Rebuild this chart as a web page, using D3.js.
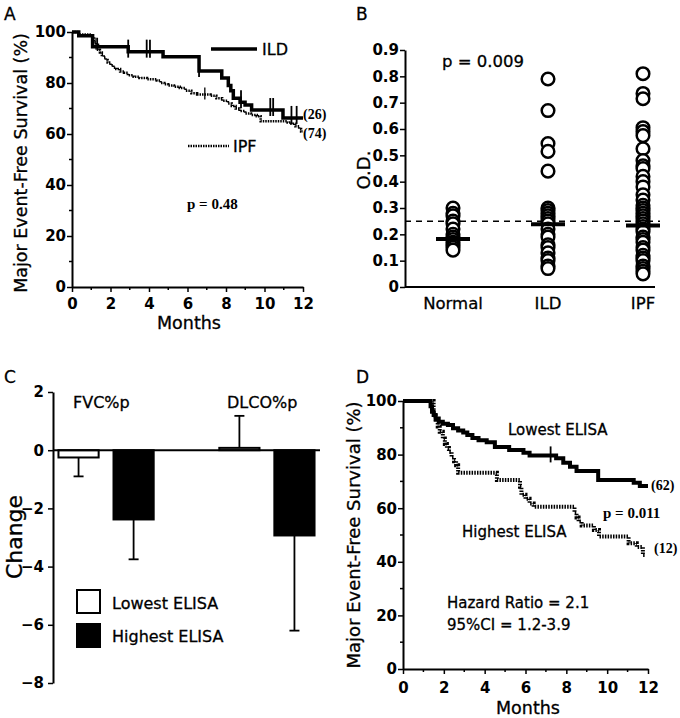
<!DOCTYPE html>
<html>
<head>
<meta charset="utf-8">
<script src="https://d3js.org/d3.v7.min.js"></script>
<style>
  body { margin: 0; background: #fff; }
  svg text { font-family: "DejaVu Sans", Verdana, sans-serif; fill: #000; stroke: #000; stroke-width: 0.3px; }
  .tick text { font-weight: bold; font-size: 15px; stroke-width: 0; }
  .serif { font-family: "Liberation Serif", "Times New Roman", serif !important; font-weight: bold; font-size: 15px; stroke-width: 0 !important; }
</style>
</head>
<body>
<svg id="fig" width="680" height="718"></svg>
<script>
// ---- panel A : KM, ILD vs IPF ----
var ildTimes = [0, 0.35, 1.07, 2.92, 4.73, 6.6, 7.78, 8.12, 8.25, 8.38, 8.73, 8.99, 9.33, 10.96, 12];
var ildSurv  = [100, 98.5, 94.2, 92.3, 90.3, 84.7, 82, 79, 77, 74, 72.5, 71.4, 69.4, 66.3, 66.3];
var ildCensor = [2.92, 3.88, 4.05, 6.6, 8.78, 10.3, 10.45, 11.4, 11.67];

var ipfTimes = [0, 0.35, 1.0, 1.15, 1.25, 1.35, 1.45, 1.55, 1.65, 1.75, 1.85, 2.0, 2.15, 2.3, 2.5, 2.7, 2.9, 3.2, 3.5, 3.9, 4.4, 4.6, 4.8, 5.0, 5.3, 5.6, 5.9, 6.2, 6.5, 7.2, 7.5, 7.8, 8.1, 8.3, 8.5, 8.7, 9.0, 9.3, 9.6, 9.8, 11.2, 11.4, 11.6, 11.8, 11.9, 12];
var ipfSurv  = [100, 99, 98, 96, 95, 93, 92, 91, 90, 89, 88, 87, 86, 85.5, 84.5, 84, 83, 82.5, 82, 81.5, 81, 80, 79.5, 79, 78.5, 78, 77, 76, 75.5, 75, 74, 73, 72, 71, 70, 69, 68, 67.5, 67, 65, 64.5, 64, 63, 62, 61, 61];
var ipfCensor = [1.25, 1.32, 6.9];

// ---- panel B : O.D. scatter ----
var bGroups = ["Normal", "ILD", "IPF"];
var normalOD = [0.30, 0.28, 0.27, 0.25, 0.24, 0.22, 0.20, 0.19, 0.18, 0.17, 0.16, 0.15, 0.14];
var ildOD = [0.79, 0.67, 0.545, 0.515, 0.44, 0.30, 0.29, 0.28, 0.27, 0.26, 0.25, 0.24, 0.22, 0.20, 0.19, 0.16, 0.15, 0.13, 0.11, 0.10, 0.08, 0.07];
var ipfOD = [0.81, 0.735, 0.715, 0.605, 0.59, 0.575, 0.525, 0.48, 0.46, 0.45, 0.42, 0.40, 0.38, 0.35, 0.33, 0.31, 0.30, 0.29, 0.28, 0.27, 0.26, 0.25, 0.24, 0.23, 0.22, 0.21, 0.19, 0.18, 0.17, 0.15, 0.14, 0.12, 0.11, 0.10, 0.08, 0.07, 0.06, 0.05];
var bMedians = [0.182, 0.238, 0.234];
var bCutoff = 0.25;
var bTicks = [0, 0.1, 0.2, 0.3, 0.4, 0.5, 0.6, 0.7, 0.8, 0.9];

// ---- panel C : change bars ----
var cGroups = ["FVC%p", "DLCO%p"];
var cSeries = ["Lowest ELISA", "Highest ELISA"];
var lowestMean = [-0.25, 0.08];
var lowestErr  = [0.65, 1.1];
var highestMean = [-2.38, -2.93];
var highestErr  = [1.37, 3.27];
var cTicks = [2, 0, -2, -4, -6, -8];

// ---- panel D : KM, lowest vs highest ELISA ----
var lowTimes = [0, 1.35, 1.42, 1.5, 1.6, 1.75, 1.95, 2.2, 2.45, 2.7, 2.95, 3.15, 3.4, 3.7, 4.1, 4.5, 5.2, 5.9, 6.2, 7.5, 7.85, 8.18, 8.5, 9.56, 11.3, 11.6, 12];
var lowSurv  = [100, 98, 96, 94.8, 93.5, 92.3, 91.5, 91, 89.8, 89, 88.2, 87.3, 86.2, 85.4, 84.6, 82.8, 81.7, 80.7, 79.7, 78.6, 77, 75.5, 73.9, 70.5, 69.5, 68.3, 68.3];
var lowCensor = [7.23];
var highTimes = [0, 1.5, 1.6, 1.7, 1.8, 1.95, 2.05, 2.15, 2.25, 2.38, 2.5, 2.6, 2.7, 4.6, 5.73, 5.8, 6.0, 6.2, 6.4, 8.4, 8.5, 8.6, 8.75, 9.35, 9.6, 11.05, 11.45, 11.75, 11.85];
var highSurv  = [100, 95.5, 93, 90.5, 88.5, 86, 84, 82.5, 81, 79, 77.5, 76, 73.2, 70.5, 68, 65, 63.5, 61.8, 60.5, 58.3, 56.5, 55, 53.5, 51.9, 49.4, 46.9, 45.5, 42.5, 42.5];

var monthTicks = [0, 2, 4, 6, 8, 10, 12];
var monthMinor = [1, 3, 5, 7, 9, 11];
var survTicks = [0, 20, 40, 60, 80, 100];
var survMinor = [10, 30, 50, 70, 90];

var svg = d3.select("#fig");

function label(x, y, txt, size, opts) {
  opts = opts || {};
  var t = svg.append("text").attr("x", x).attr("y", y).text(txt)
    .style("font-size", size + "px");
  if (opts.anchor) t.attr("text-anchor", opts.anchor);
  if (opts.cls) t.attr("class", opts.cls);
  if (opts.bold) t.style("font-weight", "bold");
  return t;
}
function vlabel(cx, cy, txt, size) {
  svg.append("text")
    .attr("transform", "translate(" + cx + "," + cy + ") rotate(-90)")
    .attr("text-anchor", "middle").attr("dy", "0.35em")
    .style("font-size", size + "px").text(txt);
}
function styleAxis(g) {
  g.select(".domain").attr("stroke-width", 2);
  g.selectAll(".tick line").attr("stroke-width", 1.5);
}
function minorTicks(g, vals, scale, horiz, len) {
  g.selectAll(null).data(vals).enter().append("line")
    .attr("x1", function(d) { return horiz ? scale(d) : 0; })
    .attr("x2", function(d) { return horiz ? scale(d) : -len; })
    .attr("y1", function(d) { return horiz ? 0 : scale(d); })
    .attr("y2", function(d) { return horiz ? len : scale(d); })
    .attr("stroke", "#000").attr("stroke-width", 1.5);
}

function kmPanel(x0, x1, y0, y1, xPad) {
  var x = d3.scaleLinear().domain([0, 12]).range([x0, x1]);
  var y = d3.scaleLinear().domain([0, 100]).range([y0, y1]);
  var gx = svg.append("g").attr("transform", "translate(0," + y0 + ")")
    .call(d3.axisBottom(x).tickValues(monthTicks).tickSize(5).tickSizeOuter(0).tickPadding(xPad));
  styleAxis(gx);
  minorTicks(gx, monthMinor, x, true, 3);
  var gy = svg.append("g").attr("transform", "translate(" + x0 + ",0)")
    .call(d3.axisLeft(y).tickValues(survTicks).tickSize(5).tickSizeOuter(0).tickPadding(1));
  styleAxis(gy);
  minorTicks(gy, survMinor, y, false, 3);
  return {x: x, y: y};
}

function kmCurve(sc, times, surv, width, dash) {
  var pts = times.map(function(t, i) { return [t, surv[i]]; });
  var line = d3.line().curve(d3.curveStepAfter)
    .x(function(d) { return sc.x(d[0]); })
    .y(function(d) { return sc.y(d[1]); });
  var p = svg.append("path").datum(pts).attr("d", line)
    .attr("fill", "none").attr("stroke", "#000").attr("stroke-width", width);
  if (dash) p.attr("stroke-dasharray", dash);
}
function survAt(times, surv, t) {
  var v = surv[0];
  for (var i = 0; i < times.length; i++) if (times[i] <= t) v = surv[i];
  return v;
}
function censor(sc, marks, times, surv, up, down, width) {
  svg.selectAll(null).data(marks).enter().append("line")
    .attr("x1", function(d) { return sc.x(d); })
    .attr("x2", function(d) { return sc.x(d); })
    .attr("y1", function(d) { return sc.y(survAt(times, surv, d)) - up; })
    .attr("y2", function(d) { return sc.y(survAt(times, surv, d)) + down; })
    .attr("stroke", "#000").attr("stroke-width", width);
}

// ================= A =================
var scA = kmPanel(72, 303, 287, 32, 6);
kmCurve(scA, ipfTimes, ipfSurv, 2.5, "1.5,1");
kmCurve(scA, ildTimes, ildSurv, 3.5);
censor(scA, ildCensor, ildTimes, ildSurv, 12, 6, 1.8);
censor(scA, ipfCensor, ipfTimes, ipfSurv, 7, 5, 1.3);
svg.append("line").attr("x1", 211).attr("x2", 257).attr("y1", 49).attr("y2", 49)
  .attr("stroke", "#000").attr("stroke-width", 3.5);
label(262, 55, "ILD", 16);
svg.append("line").attr("x1", 188).attr("x2", 229).attr("y1", 146).attr("y2", 146)
  .attr("stroke", "#000").attr("stroke-width", 2.5).attr("stroke-dasharray", "1.5,1");
label(233, 152, "IPF", 16);
label(187, 209, "p = 0.48", 15, {cls: "serif"});
label(303, 119, "(26)", 14, {cls: "serif"});
label(303, 138, "(74)", 14, {cls: "serif"});
vlabel(21, 163, "Major Event-Free Survival (%)", 17.5);
label(189, 329, "Months", 17.5, {anchor: "middle"});
label(4, 20, "A", 17);

// ================= B =================
var xB = d3.scalePoint().domain(bGroups).range([453, 643]);
var yB = d3.scaleLinear().domain([0, 0.9]).range([287, 50]);
var gxB = svg.append("g").attr("transform", "translate(0,287)");
gxB.append("line").attr("x1", 405).attr("x2", 655).attr("stroke", "#000").attr("stroke-width", 2);
bGroups.forEach(function(g) {
  label(xB(g), 309, g, 16.5, {anchor: "middle"});
});
var gyB = svg.append("g").attr("transform", "translate(405,0)")
  .call(d3.axisLeft(yB).tickValues(bTicks).tickSize(5).tickSizeOuter(0).tickPadding(1)
    .tickFormat(function(d) { return d === 0 ? "0" : d3.format(".1f")(d); }));
styleAxis(gyB);
svg.append("line").attr("x1", 405).attr("x2", 660)
  .attr("y1", yB(bCutoff)).attr("y2", yB(bCutoff))
  .attr("stroke", "#000").attr("stroke-width", 1.5).attr("stroke-dasharray", "6,5");
[normalOD, ildOD, ipfOD].forEach(function(vals, i) {
  svg.selectAll(null).data(vals).enter().append("circle")
    .attr("cx", xB(bGroups[i])).attr("cy", function(d) { return yB(d); })
    .attr("r", 6.3).attr("fill", "#fff").attr("stroke", "#000").attr("stroke-width", 2.5);
});
bMedians.forEach(function(m, i) {
  svg.append("line").attr("x1", xB(bGroups[i]) - 17).attr("x2", xB(bGroups[i]) + 17)
    .attr("y1", yB(m)).attr("y2", yB(m)).attr("stroke", "#000").attr("stroke-width", 4);
});
label(442, 67, "p = 0.009", 16.5);
vlabel(364, 170, "O.D.", 18);
label(356, 20, "B", 17);

// ================= C =================
var x0C = d3.scaleBand().domain(cGroups).range([53, 320]).paddingInner(0.408).paddingOuter(0.034);
var x1C = d3.scaleBand().domain(cSeries).range([0, x0C.bandwidth()]).paddingInner(0.27);
var yC = d3.scaleLinear().domain([-8, 2]).range([683, 392]);
var gyC = svg.append("g").attr("transform", "translate(53,0)")
  .call(d3.axisLeft(yC).tickValues(cTicks).tickSize(5).tickSizeOuter(0).tickPadding(4));
styleAxis(gyC);

var cRows = [];
cGroups.forEach(function(g, i) {
  cRows.push({group: g, series: cSeries[0], mean: lowestMean[i], err: lowestErr[i], fill: "#fff"});
  cRows.push({group: g, series: cSeries[1], mean: highestMean[i], err: highestErr[i], fill: "#000"});
});
cRows.forEach(function(r) {
  var bx = x0C(r.group) + x1C(r.series);
  var cx = bx + x1C.bandwidth() / 2;
  var tip = r.mean + (r.mean < 0 ? -r.err : r.err);
  svg.append("line").attr("x1", cx).attr("x2", cx)
    .attr("y1", yC(r.mean)).attr("y2", yC(tip)).attr("stroke", "#000").attr("stroke-width", 1.8);
  svg.append("line").attr("x1", cx - 5).attr("x2", cx + 5)
    .attr("y1", yC(tip)).attr("y2", yC(tip)).attr("stroke", "#000").attr("stroke-width", 1.8);
  svg.append("rect").attr("x", bx).attr("width", x1C.bandwidth())
    .attr("y", yC(Math.max(0, r.mean))).attr("height", Math.abs(yC(r.mean) - yC(0)))
    .attr("fill", r.fill).attr("stroke", "#000").attr("stroke-width", 2);
});
svg.append("line").attr("x1", 53).attr("x2", 320).attr("y1", yC(0)).attr("y2", yC(0))
  .attr("stroke", "#000").attr("stroke-width", 2);
label(73, 408, "FVC%p", 16);
label(227, 408, "DLCO%p", 16);
svg.append("rect").attr("x", 77).attr("y", 590).attr("width", 23).attr("height", 23)
  .attr("fill", "#fff").attr("stroke", "#000").attr("stroke-width", 2);
svg.append("rect").attr("x", 77).attr("y", 624).attr("width", 23).attr("height", 23)
  .attr("fill", "#000").attr("stroke", "#000").attr("stroke-width", 2);
label(112, 609, cSeries[0], 16);
label(112, 642, cSeries[1], 16);
vlabel(14, 537, "Change", 22);
label(4, 383, "C", 17);

// ================= D =================
var scD = kmPanel(403, 648, 669, 401, 8);
kmCurve(scD, highTimes, highSurv, 4, "1.5,1.2");
kmCurve(scD, lowTimes, lowSurv, 4);
censor(scD, lowCensor, lowTimes, lowSurv, 9, 7, 1.8);
label(508, 435, "Lowest ELISA", 15);
label(462, 537, "Highest ELISA", 15);
label(603, 518, "p = 0.011", 15, {cls: "serif"});
label(651, 490, "(62)", 14, {cls: "serif"});
label(654, 553, "(12)", 14, {cls: "serif"});
label(447, 608, "Hazard Ratio = 2.1", 15);
label(447, 630, "95%CI = 1.2-3.9", 15);
vlabel(354, 535, "Major Event-Free Survival (%)", 18);
label(528, 714, "Months", 17.5, {anchor: "middle"});
label(356, 383, "D", 17);
</script>
</body>
</html>
